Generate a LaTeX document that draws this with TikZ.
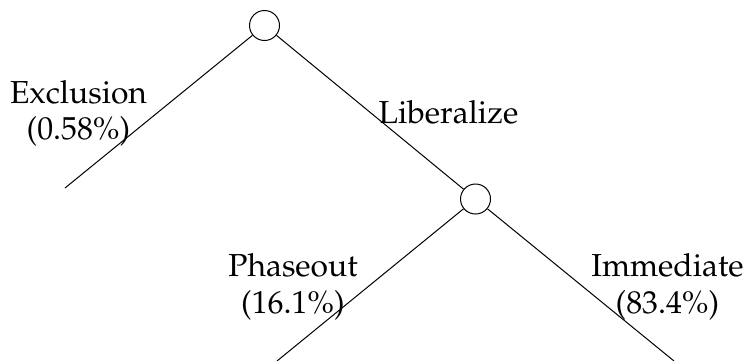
\documentclass[tikz,border=0pt]{standalone}
\usepackage[T1]{fontenc}
\usepackage{mathpazo}
\begin{document}
\begin{tikzpicture}[x=0.5pt,y=-0.5pt,
  chance/.style={circle,draw,line width=0.5pt,minimum size=15pt,inner sep=0pt},
  branch/.style={line width=0.5pt},
  lbl/.style={font=\fontsize{15.9}{18.2}\selectfont,align=center,inner sep=0pt}]
\useasboundingbox (0,0) rectangle (748,360);
\node[chance] (n1) at (264.5,25.5) {};
\node[chance] (n2) at (475.5,199) {};
\coordinate (e1) at (65,188);
\coordinate (e2) at (277,361);
\coordinate (e3) at (674,361);
\draw[branch] (n1) -- (e1);
\draw[branch] (n1) -- (n2);
\draw[branch] (n2) -- (e2);
\draw[branch] (n2) -- (e3);
\node[lbl] (l1) at (78.5,113.5) {Exclusion\\(0.58\%)};
\node[lbl,anchor=base] (l2) at (448.5,123.5) {Liberalize};
\node[lbl] (l3) at (293,287) {Phaseout\\(16.1\%)};
\node[lbl] (l4) at (667.5,287) {Immediate\\(83.4\%)};
\end{tikzpicture}
\end{document}
